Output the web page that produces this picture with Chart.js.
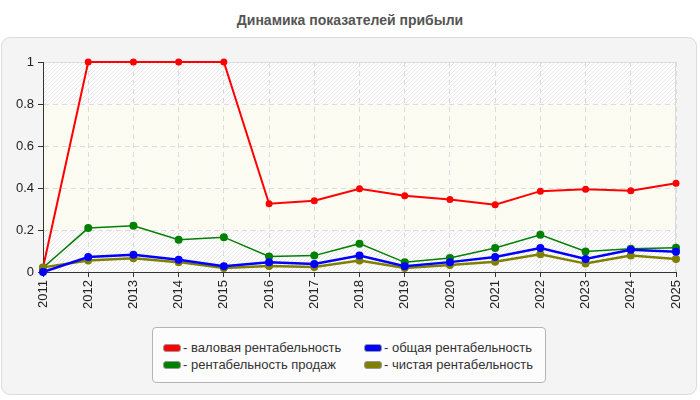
<!DOCTYPE html>
<html><head><meta charset="utf-8">
<script src="https://cdn.jsdelivr.net/npm/chart.js@4.4.0/dist/chart.umd.min.js"></script>
<style>
html,body{margin:0;padding:0;background:#fff;width:700px;height:400px;overflow:hidden;font-family:"Liberation Sans",Arial,sans-serif;}
#frame{position:absolute;left:1px;top:37px;width:694px;height:356px;border:1px solid #dcdcdc;border-radius:9px;background:#f4f4f4;}
#title{position:absolute;left:0;top:12px;width:700px;text-align:center;font-weight:bold;font-size:14px;color:#555;}
#wrap{position:absolute;left:0;top:0;width:700px;height:400px;}
#legend{position:absolute;left:152px;top:327px;width:392px;height:54px;border:1px solid #b4b4b4;border-radius:4px;background:#fcfcfc;}
.item{position:absolute;font-size:13px;color:#333;white-space:nowrap;line-height:15px;}
.sw{display:inline-block;width:16px;height:6px;border:1px solid #999;border-radius:3px;vertical-align:middle;margin-right:2px;position:relative;top:-1px;}
</style></head>
<body>
<div id="frame"></div>
<div id="title">Динамика показателей прибыли</div>
<div id="wrap"><canvas id="c" width="700" height="400"></canvas></div>
<div id="legend"></div>
<script>
const years = ['2011','2012','2013','2014','2015','2016','2017','2018','2019','2020','2021','2022','2023','2024','2025'];
const grossMargin = [0.02,1,1,1,1,0.325,0.339,0.396,0.363,0.345,0.320,0.385,0.394,0.387,0.423];
const salesMargin = [0.02,0.209,0.220,0.154,0.166,0.074,0.078,0.135,0.046,0.067,0.114,0.177,0.098,0.111,0.116];
const totalMargin = [0,0.071,0.082,0.058,0.027,0.046,0.038,0.078,0.027,0.047,0.071,0.114,0.062,0.106,0.097];
const netMargin = [0.022,0.055,0.066,0.047,0.019,0.028,0.024,0.055,0.019,0.033,0.049,0.084,0.040,0.079,0.062];
const seriesNames = ['валовая рентабельность','общая рентабельность','рентабельность продаж','чистая рентабельность'];
const yTicks = [0,0.2,0.4,0.6,0.8,1];

const colors = {red:'#ff0000', blue:'#0000ff', green:'#008000', olive:'#808000'};

// legend (HTML)
const legendItems = [
  {name:seriesNames[0], color:colors.red, x:10, y:12},
  {name:seriesNames[1], color:colors.blue, x:211, y:12},
  {name:seriesNames[2], color:colors.green, x:10, y:29},
  {name:seriesNames[3], color:colors.olive, x:211, y:29}
];
const lg = document.getElementById('legend');
legendItems.forEach(it=>{
  const d=document.createElement('div');d.className='item';
  d.style.left=it.x+'px';d.style.top=it.y+'px';
  const s=document.createElement('span');s.className='sw';s.style.background=it.color;
  d.appendChild(s);d.appendChild(document.createTextNode('- '+it.name));
  lg.appendChild(d);
});

const bgPlugin = {
  id:'bg',
  beforeDraw(chart){
    const {ctx, chartArea:a, scales:{y}} = chart;
    ctx.save();
    ctx.fillStyle='#ffffff';
    ctx.fillRect(a.left,a.top,a.right-a.left,a.bottom-a.top);
    ctx.beginPath();ctx.rect(a.left,a.top,a.right-a.left,a.bottom-a.top);ctx.clip();
    ctx.strokeStyle='#e6e6e6';ctx.lineWidth=1;
    const h=a.bottom-a.top;
    for(let x=a.left-h;x<a.right+h;x+=4){
      ctx.beginPath();ctx.moveTo(x,a.bottom);ctx.lineTo(x+h,a.top);ctx.stroke();
    }
    const y1=y.getPixelForValue(0.8), y2=y.getPixelForValue(0.2);
    ctx.fillStyle='rgba(252,252,240,0.88)';
    ctx.fillRect(a.left,y1,a.right-a.left,y2-y1);
    ctx.restore();
    ctx.save();
    ctx.strokeStyle='#dddddd';ctx.lineWidth=1;
    ctx.beginPath();ctx.moveTo(a.left,a.top+0.5);ctx.lineTo(a.right-0.5,a.top+0.5);ctx.lineTo(a.right-0.5,a.bottom);ctx.stroke();
    ctx.restore();
  }
};

function ds(label,data,color,width,r){
  return {label,data,borderColor:color,backgroundColor:color,pointBackgroundColor:color,pointBorderColor:color,
    borderWidth:width,pointRadius:r,pointHoverRadius:r,pointBorderWidth:0,tension:0,fill:false,clip:false};
}

new Chart(document.getElementById('c'),{
  type:'line',
  data:{labels:years,datasets:[
    ds(seriesNames[1],totalMargin,colors.blue,2.5,4),
    ds(seriesNames[3],netMargin,colors.olive,2.5,4),
    ds(seriesNames[2],salesMargin,colors.green,1.5,4),
    ds(seriesNames[0],grossMargin,colors.red,2,3.5)
  ]},
  plugins:[bgPlugin],
  options:{
    responsive:false,animation:false,devicePixelRatio:1,
    layout:{padding:{left:0,right:24,top:62,bottom:88}},
    plugins:{legend:{display:false},title:{display:false},tooltip:{enabled:false}},
    scales:{
      x:{
        offset:false,
        grid:{color:'#dcdcdc',tickColor:'#333',tickLength:5,tickBorderDash:[],drawOnChartArea:true},
        border:{color:'#333',dash:[5,4],width:1},
        ticks:{color:'#222',font:{family:'Liberation Sans',size:13},maxRotation:90,minRotation:90,autoSkip:false,padding:3},
        afterFit(s){s.height=40;}
      },
      y:{
        min:0,max:1,
        afterBuildTicks(s){s.ticks=yTicks.map(v=>({value:v}));},
        grid:{color:'#dcdcdc',tickColor:'#333',tickLength:5,tickBorderDash:[]},
        border:{color:'#333',dash:[5,4],width:1},
        ticks:{color:'#222',font:{family:'Liberation Sans',size:13},padding:4,callback:v=>String(v)},
        afterFit(s){s.width=43;}
      }
    }
  }
});
</script>
</body></html>
